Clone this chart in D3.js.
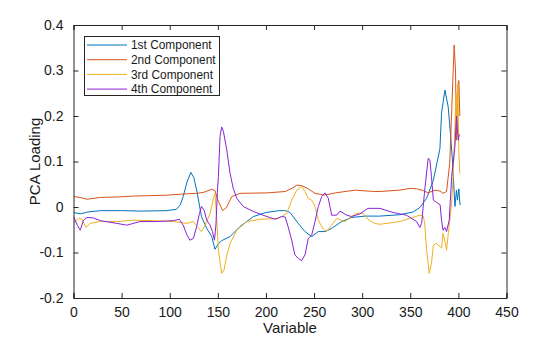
<!DOCTYPE html>
<html><head><meta charset="utf-8">
<script src="https://cdn.jsdelivr.net/npm/d3@7/dist/d3.min.js"></script>
<style>body{margin:0;background:#fff;}svg{display:block;font-family:"Liberation Sans",Arial,Helvetica,sans-serif;}</style>
</head><body><svg id="c" width="560" height="337"></svg>
<script>
const seriesNames = ["1st Component","2nd Component","3rd Component","4th Component"];
const seriesColors = ["#0072BD","#D95319","#EDB120","#8A22D6"];
const xTicks = [0,50,100,150,200,250,300,350,400,450];
const yTicks = [-0.2,-0.1,0,0.1,0.2,0.3,0.4];
const xLabel = "Variable";
const yLabel = "PCA Loading";

const comp1 = [[0,-0.012],[7,-0.015],[15,-0.011],[28,-0.008],[50,-0.008],[70,-0.009],[97,-0.008],[107,-0.005],[111,0.005],[114,0.023],[118,0.055],[122,0.076],[125,0.065],[128,0.037],[133,-0.021],[138.5,-0.047],[143.7,-0.065],[147,-0.093],[150.6,-0.081],[154,-0.074],[162.7,-0.065],[173,-0.043],[187,-0.021],[200,-0.012],[214,-0.008],[220,-0.008],[225,-0.012],[233.6,-0.036],[240.6,-0.054],[247.5,-0.065],[254.4,-0.054],[261.4,-0.054],[268.3,-0.047],[278.7,-0.032],[289,-0.023],[303,-0.020],[318,-0.020],[339,-0.017],[353,-0.011],[360,-0.001],[367,0.019],[374,0.059],[380.8,0.128],[382.5,0.207],[386,0.257],[389.4,0.220],[392,0.155],[394,0.096],[396.4,0.001],[398,0.037],[399,0.015],[400.5,0.040],[401.5,0.009],[402,0.004]];
const comp2 = [[0,0.023],[7,0.021],[14,0.017],[28,0.021],[45,0.022],[62,0.024],[80,0.025],[97,0.026],[118,0.029],[128,0.030],[135,0.032],[143.7,0.039],[147,0.036],[150.6,0.012],[155,-0.008],[159,-0.001],[164.5,0.023],[173,0.030],[201,0.031],[220,0.034],[228,0.042],[232,0.048],[237,0.047],[244,0.040],[251,0.030],[261,0.026],[272,0.031],[292.5,0.037],[313,0.034],[318.5,0.034],[339,0.037],[350,0.041],[356.6,0.040],[363.5,0.036],[368.6,0.031],[375.6,0.037],[381,0.035],[384,0.030],[387.7,0.034],[391,0.096],[393.6,0.242],[395.6,0.356],[397,0.301],[398,0.147],[399.8,0.272],[400.5,0.278],[401.5,0.200]];
const comp3 = [[0,-0.036],[5,-0.025],[8.7,-0.027],[13,-0.045],[17,-0.036],[28,-0.032],[45,-0.032],[62,-0.029],[83,-0.030],[104,-0.032],[118,-0.036],[124.6,-0.032],[130,-0.047],[133,-0.054],[136.8,-0.040],[142,-0.014],[145.4,0.019],[147,0.030],[149,-0.029],[150.6,-0.095],[154,-0.146],[156.5,-0.138],[159,-0.109],[162.7,-0.080],[169.7,-0.051],[180,-0.032],[194,-0.027],[213,-0.025],[221.6,-0.014],[226.8,0.015],[232,0.037],[237,0.045],[240.6,0.034],[244,0.019],[247.5,0.015],[251,0.001],[254.4,-0.029],[259.6,-0.049],[263,-0.054],[268.3,-0.040],[273.5,-0.025],[282,-0.032],[289,-0.021],[294,-0.014],[301,-0.014],[306,-0.027],[313,-0.036],[318.5,-0.038],[339,-0.032],[349.6,-0.025],[360,-0.018],[363.5,-0.020],[365,-0.036],[367,-0.095],[369.7,-0.146],[372,-0.124],[374,-0.084],[377,-0.080],[381,-0.087],[382.5,-0.090],[384,-0.058],[386,-0.075],[387.7,-0.095],[389.4,-0.060],[393,0.008],[394.5,0.067],[396,0.150],[397.5,0.250],[398.5,0.180],[399.5,0.270],[400.5,0.120],[401.5,0.074]];
const comp4 = [[0,-0.021],[4,-0.040],[7,-0.051],[10.4,-0.029],[14,-0.023],[20.8,-0.024],[28,-0.030],[45,-0.036],[55.4,-0.040],[69,-0.032],[86.6,-0.032],[104,-0.030],[110,-0.027],[114,-0.040],[118,-0.062],[121,-0.073],[124.6,-0.069],[128,-0.043],[130.9,-0.014],[133,0.001],[135.7,-0.007],[138.5,-0.029],[142,-0.040],[144.4,-0.054],[146.5,-0.073],[148,-0.040],[149.6,0.037],[150.6,0.067],[152.3,0.155],[154,0.176],[155.8,0.166],[159.3,0.125],[162.7,0.074],[166,0.041],[169.7,0.019],[176.5,0.001],[187,-0.010],[197,-0.018],[204,-0.023],[209.5,-0.027],[216.4,-0.021],[220,-0.022],[223,-0.043],[226.8,-0.073],[230,-0.105],[233.6,-0.113],[237,-0.118],[240.6,-0.105],[244,-0.069],[247.5,-0.062],[251,-0.032],[254.4,0.001],[258,0.023],[261.4,0.031],[264.8,0.019],[268.3,-0.018],[273.5,-0.018],[277,-0.009],[284,-0.018],[289,-0.021],[297.7,-0.015],[306,-0.003],[318.5,-0.003],[332,-0.012],[346,-0.018],[356.6,-0.032],[360,-0.045],[361.8,-0.036],[365,0.037],[368.6,0.107],[370.4,0.103],[372,0.067],[374,0.015],[377.4,0.010],[381,0.005],[382.5,-0.029],[384,-0.051],[386,-0.045],[387.7,-0.054],[390.5,-0.029],[393,0.067],[396.4,0.133],[398,0.200],[399.8,0.147],[401,0.160]];
const allSeries = [comp1, comp2, comp3, comp4];

const W = 560, H = 337;
const m = {left:73.5, right:53.5, top:25, bottom:39};
const svg = d3.select("#c");
const x = d3.scaleLinear().domain([0,450]).range([m.left, W-m.right]);
const y = d3.scaleLinear().domain([-0.2,0.4]).range([H-m.bottom, m.top]);
const axisColor = "#262626";
const fs = 14;

const fmtY = d => d === 0 ? "0" : d3.format(".1f")(d).replace("−","-");

const clipId = "clip";
svg.append("defs").append("clipPath").attr("id",clipId).append("rect")
  .attr("x",m.left).attr("y",m.top).attr("width",x(450)-m.left).attr("height",y(-0.2)-m.top);
const line = d3.line().x(d=>x(d[0])).y(d=>y(d[1]));
const g = svg.append("g").attr("clip-path",`url(#${clipId})`);
allSeries.forEach((s,i)=>{
  g.append("path").datum(s).attr("d",line).attr("fill","none")
   .attr("stroke",seriesColors[i]).attr("stroke-width",1).attr("stroke-linejoin","round");
});

const tl = 5;
const axB = svg.append("g").attr("transform",`translate(0,${y(-0.2)})`)
  .call(d3.axisBottom(x).tickValues(xTicks).tickSize(-tl).tickPadding(9).tickFormat(d3.format("d")));
const axT = svg.append("g").attr("transform",`translate(0,${y(0.4)})`)
  .call(d3.axisTop(x).tickValues(xTicks).tickSize(-tl).tickFormat(""));
const axL = svg.append("g").attr("transform",`translate(${x(0)},0)`)
  .call(d3.axisLeft(y).tickValues(yTicks).tickSize(-tl).tickPadding(10).tickFormat(fmtY));
const axR = svg.append("g").attr("transform",`translate(${x(450)},0)`)
  .call(d3.axisRight(y).tickValues(yTicks).tickSize(-tl).tickFormat(""));
[axB,axT,axL,axR].forEach(a=>{
  a.selectAll(".domain").attr("stroke",axisColor).attr("stroke-width",1);
  a.selectAll(".tick line").attr("stroke",axisColor).attr("stroke-width",1);
  a.selectAll("text").attr("fill","#1a1a1a").style("font-size",fs+"px").style("font-family","'Liberation Sans',Arial,sans-serif");
});

svg.append("text").attr("x",(x(0)+x(450))/2).attr("y",333).attr("text-anchor","middle")
  .style("font-size","15px").attr("fill","#1a1a1a").text(xLabel);
svg.append("text").attr("transform",`translate(40,${(y(0.4)+y(-0.2))/2}) rotate(-90)`)
  .attr("text-anchor","middle").style("font-size","15px").attr("fill","#1a1a1a").text(yLabel);

const lg = svg.append("g");
lg.append("rect").attr("x",84.5).attr("y",36.5).attr("width",135).attr("height",59)
  .attr("fill","#fff").attr("stroke",axisColor).attr("stroke-width",1);
seriesNames.forEach((n,i)=>{
  const yy = 45 + i*14.7;
  lg.append("line").attr("x1",87).attr("x2",127).attr("y1",yy).attr("y2",yy)
    .attr("stroke",seriesColors[i]).attr("stroke-width",1);
  lg.append("text").attr("x",131).attr("y",yy+4.2).style("font-size","11.9px").attr("fill","#1a1a1a").text(n);
});
</script></body></html>
